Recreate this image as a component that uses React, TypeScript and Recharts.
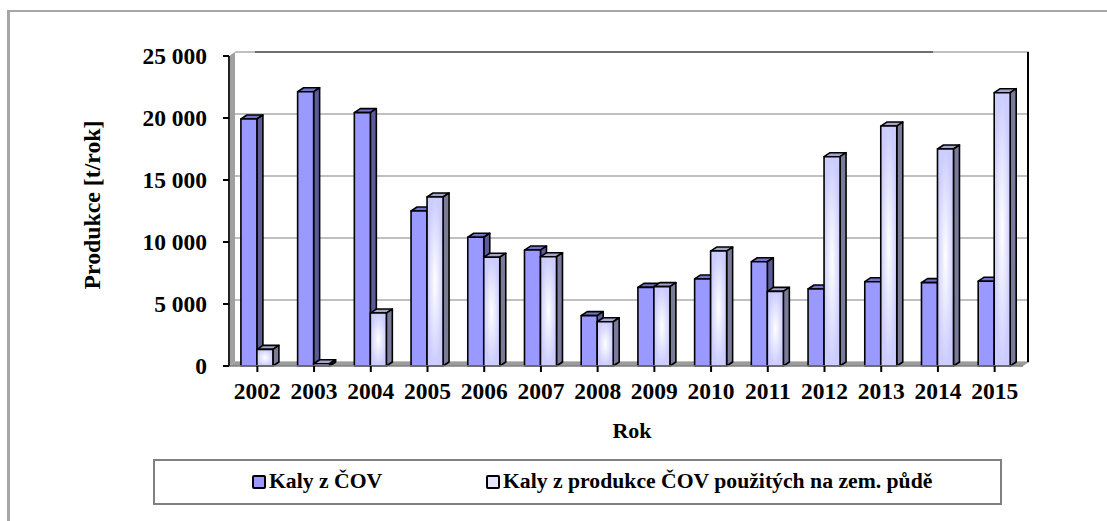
import React from "react";
import { BarChart, Bar, XAxis, YAxis, CartesianGrid, Legend, usePlotArea } from "recharts";

const years = ["2002", "2003", "2004", "2005", "2006", "2007", "2008", "2009", "2010", "2011", "2012", "2013", "2014", "2015"];
const sludgeTotal = [19920, 22120, 20430, 12500, 10380, 9350, 4060, 6340, 7020, 8410, 6210, 6800, 6720, 6840];
const sludgeOnSoil = [1340, 180, 4270, 13630, 8770, 8810, 3570, 6400, 9270, 6020, 16880, 19350, 17500, 22040];
const yTicks = [0, 5000, 10000, 15000, 20000, 25000];

const nameTotal = "Kaly z ČOV";
const nameOnSoil = "Kaly z produkce ČOV použitých na zem. půdě";

const data = years.map((year, i) => ({ year, total: sludgeTotal[i], onSoil: sludgeOnSoil[i] }));

const FONT = "'Liberation Serif', serif";
const DX = 6; // depth of the fake 3D
const DY = 4;

const formatTick = (v: number) => String(v).replace(/(\d)(\d{3})$/, "$1\u00a0$2");

// front face + top + side, excel style
const Bar3D = ({ x, y, width, height, front, top, side }: any) => {
  return (
    <g stroke="#000" strokeWidth={1.6} strokeLinejoin="round">
      <path d={`M${x},${y} l${DX},${-DY} h${width} l${-DX},${DY} z`} fill={top} />
      <path d={`M${x + width},${y} l${DX},${-DY} v${height} l${-DX},${DY} z`} fill={side} />
      <rect x={x} y={y} width={width} height={height} fill={front} />
    </g>
  );
};

// back wall pieces, follows the plot area
const Walls = () => {
  const plot = usePlotArea();
  if (!plot) return null;
  const { x, y, width, height } = plot;
  const bottom = y + height;
  return (
    <g>
      <path d={`M${x},${y} l${DX},${-DY} V${bottom - DY} l${-DX},${DY} z`} fill="#a0a0a0" />
      <path d={`M${x},${bottom} l${DX},${-DY} h${width} l${-DX},${DY} z`} fill="#9c9c9c" />
      <line x1={x + DX + 20} y1={y - DY} x2={x + width - 90} y2={y - DY} stroke="#555" strokeWidth={1.5} />
      <line x1={x + width + DX - 1} y1={y - DY} x2={x + width + DX - 1} y2={bottom - DY} stroke="#000" strokeWidth={2} />
    </g>
  );
};

const LegendBox = () => (
  <div
    style={{
      boxSizing: "border-box",
      width: 849,
      height: 46,
      border: "2px solid #808080",
      position: "relative",
      fontFamily: FONT,
      fontWeight: "bold",
      fontSize: 21.7,
      color: "#000",
    }}
  >
    {[
      { name: nameTotal, left: 97, bg: "#9999ff" },
      { name: nameOnSoil, left: 331, bg: "#e6e6ff" },
    ].map((item) => (
      <div key={item.name} style={{ position: "absolute", left: item.left, top: 8, display: "flex", alignItems: "center", whiteSpace: "nowrap" }}>
        <span style={{ boxSizing: "border-box", width: 14, height: 14, border: "2px solid #000", borderRadius: 2, background: item.bg, marginRight: 3 }} />
        {item.name}
      </div>
    ))}
  </div>
);

const App = () => {
  return (
    <div style={{ position: "absolute", left: 0, top: 0, width: 1107, height: 521, background: "#fff", overflow: "hidden" }}>
      <div style={{ position: "absolute", left: 7, top: 10, width: 1200, height: 600, borderLeft: "3px solid #a6a6a6", borderTop: "2px solid #a6a6a6" }} />
      <BarChart
        width={1107}
        height={521}
        data={data}
        margin={{ top: 56, right: 84, bottom: 0, left: 0 }}
        barCategoryGap="21%"
        barGap={0}
        style={{ position: "absolute", left: 0, top: 0 }}
      >
        <defs>
          <radialGradient id="softFill" cx="0.5" cy="0.5" r="0.5">
            <stop offset="0%" stopColor="#ffffff" />
            <stop offset="100%" stopColor="#ccccff" />
          </radialGradient>
        </defs>
        <Walls />
        <CartesianGrid
          vertical={false}
          horizontal={(props: any) => (
            <line
              key={props.key}
              x1={props.x1 + DX}
              x2={props.x2 + DX}
              y1={props.y1 - DY}
              y2={props.y2 - DY}
              stroke="#c0c0c0"
              strokeWidth={2}
            />
          )}
        />
        <XAxis
          dataKey="year"
          height={155}
          interval={0}
          tickSize={6}
          tickMargin={10}
          tick={{ fill: "#000", fontFamily: FONT, fontWeight: "bold", fontSize: 23.5 }}
          axisLine={{ stroke: "#808080", strokeWidth: 1.5 }}
          tickLine={{ stroke: "#000", strokeWidth: 2 }}
          label={{ value: "Rok", position: "insideTop", offset: 56, dx: 6, style: { fill: "#000", fontFamily: FONT, fontWeight: "bold", fontSize: 22 } }}
        />
        <YAxis
          width={229}
          domain={[0, 25000]}
          ticks={yTicks}
          interval={0}
          tickSize={6}
          tickMargin={16}
          tickFormatter={formatTick}
          tick={{ fill: "#000", fontFamily: FONT, fontWeight: "bold", fontSize: 23.5 }}
          axisLine={{ stroke: "#222", strokeWidth: 2 }}
          tickLine={{ stroke: "#000", strokeWidth: 2 }}
          label={{
            value: "Produkce [t/rok]",
            angle: -90,
            position: "insideLeft",
            offset: 92,
            dy: -6,
            style: { textAnchor: "middle", fill: "#000", fontFamily: FONT, fontWeight: "bold", fontSize: 23.8 },
          }}
        />
        <Legend
          layout="horizontal"
          align="center"
          verticalAlign="middle"
          wrapperStyle={{ left: 153, top: 459, width: 849, height: 46 }}
          content={<LegendBox />}
        />
        <Bar
          dataKey="total"
          name={nameTotal}
          isAnimationActive={false}
          shape={(p: any) => <Bar3D {...p} front="#9999ff" top="#7373cc" side="#5c5c99" />}
        />
        <Bar
          dataKey="onSoil"
          name={nameOnSoil}
          isAnimationActive={false}
          shape={(p: any) => <Bar3D {...p} front="url(#softFill)" top="#a3a3cc" side="#7a7a99" />}
        />
      </BarChart>
    </div>
  );
};

export default App;
